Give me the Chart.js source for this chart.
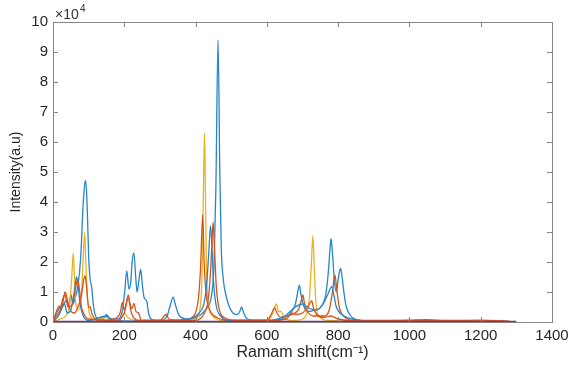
<!DOCTYPE html>
<html>
<head>
<meta charset="utf-8">
<script src="https://cdn.jsdelivr.net/npm/chart.js@4.4.1/dist/chart.umd.min.js"></script>
<style>
  html, body { margin: 0; padding: 0; background: #fff; }
  #wrap { width: 570px; height: 369px; }
</style>
</head>
<body>
<div id="wrap"><canvas id="raman"></canvas></div>
<script>
// intensities are in units of 1e4 (axis shows x10^4)
const blueAX = [0,10,20,30,38,45,50,56,62,70,78,84,89,92,96,100,104,108,114,122,140,150,160,180,195,201,207,213,218,222,227,232,236,241,246,251,256,263,268,278,300,320,330,337,344,355,380,410,430,445,452,457,463,468,472,478,485,495,505,518,524,529,535,545,570,620,650,670,680,686,691,696,703,715,735,755,765,772,777,780,784,790,795,800,804,807,811,816,822,832,850,880,1000,1200,1290];
const blueAY = [0,0.3,0.5,0.6,0.72,0.5,0.93,0.6,0.8,1.2,2.2,3.8,4.6,4.71,3.8,2.2,1.45,1.2,0.5,0.15,0.1,0.25,0.1,0.1,0.4,1.0,1.7,1.1,1.3,2.0,2.3,1.5,1.0,1.4,1.75,1.2,0.8,0.7,0.3,0.08,0.05,0.2,0.6,0.83,0.55,0.2,0.1,0.2,0.45,0.9,2.0,4.5,9.4,5.0,2.5,1.4,0.9,0.5,0.3,0.25,0.35,0.5,0.3,0.1,0.05,0.05,0.15,0.35,0.6,0.95,1.23,0.9,0.55,0.35,0.4,0.55,0.9,1.6,2.4,2.79,2.3,1.3,1.0,1.4,1.7,1.79,1.5,1.0,0.55,0.25,0.08,0.03,0.03,0.02,0.01];

const blueBX = [0,15,25,32,40,50,58,63,66,70,76,85,100,150,170,300,380,410,425,432,437,442,446,450,457,470,500,600,650,665,680,700,720,740,760,772,782,788,795,810,840,900,1100,1280];
const blueBY = [0,0.2,0.45,0.6,0.3,0.4,0.9,1.3,1.5,1.3,0.6,0.2,0.05,0.2,0.05,0.02,0.1,0.3,0.7,1.4,2.3,3.2,2.5,1.4,0.6,0.2,0.05,0.05,0.2,0.35,0.5,0.6,0.45,0.4,0.65,0.95,1.18,0.9,0.5,0.25,0.1,0.03,0.02,0.01];

const redAX = [0,8,17,24,30,34,40,48,60,70,80,86,90,94,100,104,110,130,170,188,195,200,205,211,216,222,227,233,240,248,300,312,318,325,360,395,408,414,420,424,430,440,460,500,600,612,622,628,640,670,690,697,701,706,714,730,760,775,784,791,796,803,815,850,900,1000,1050,1100,1200,1280];
const redAY = [0,0.3,0.53,0.45,0.8,1.0,0.75,0.4,0.3,0.5,0.9,1.4,1.54,1.2,0.5,0.5,0.25,0.05,0.1,0.3,0.65,0.4,0.6,0.9,0.6,0.45,0.62,0.35,0.3,0.05,0.05,0.2,0.25,0.1,0.05,0.2,0.8,1.8,3.57,2.0,0.9,0.4,0.15,0.05,0.05,0.25,0.47,0.3,0.15,0.25,0.45,0.75,0.9,0.6,0.35,0.2,0.2,0.4,1.0,1.57,1.1,0.5,0.2,0.05,0.05,0.06,0.08,0.05,0.06,0.03];

const redBX = [0,10,20,28,34,42,55,63,69,74,80,90,100,180,200,211,220,240,400,425,435,441,446,449,453,458,465,480,520,600,655,670,680,700,715,722,726,731,740,760,780,800,850,1000,1200,1270];
const redBY = [0,0.2,0.4,0.8,0.9,0.5,0.6,1.1,1.42,1.1,0.5,0.2,0.1,0.05,0.3,0.8,0.3,0.05,0.05,0.3,0.7,1.5,2.6,3.33,2.5,1.2,0.5,0.15,0.05,0.05,0.1,0.3,0.25,0.3,0.5,0.65,0.7,0.45,0.25,0.15,0.2,0.1,0.04,0.05,0.04,0.02];

const yellowX = [0,20,35,45,51,55,57,60,64,72,80,85,89,92,96,102,115,150,160,190,200,210,240,400,412,418,421,425,428,431,436,448,480,600,615,622,627,632,640,648,670,700,712,720,725,729,733,738,746,770,900,1250];
const yellowY = [0,0.1,0.2,0.5,1.2,2.0,2.3,1.5,0.6,0.4,1.0,2.2,2.98,2.0,0.9,0.3,0.1,0.15,0.05,0.1,0.3,0.15,0.05,0.1,0.4,1.5,3.5,6.3,4.0,1.6,0.6,0.2,0.05,0.05,0.25,0.5,0.6,0.35,0.35,0.15,0.05,0.1,0.3,0.9,2.0,2.87,1.8,0.6,0.2,0.05,0.02,0.01];

const purpleX = [0,200,400,600,800,1000,1200,1300];
const purpleY = [0.02,0.02,0.02,0.02,0.02,0.02,0.02,0.02];

const xTicks = [0,200,400,600,800,1000,1200,1400];
const yTicks = [0,1,2,3,4,5,6,7,8,9,10];

function pts(xs, ys) { return xs.map((x, i) => ({ x: x, y: ys[i] })); }

const series = [
  { data: pts(purpleX, purpleY), color: '#7E2F8E' },
  { data: pts(redBX, redBY), color: '#D95319' },
  { data: pts(blueBX, blueBY), color: '#2586c9' },
  { data: pts(redAX, redAY), color: '#D95319' },
  { data: pts(yellowX, yellowY), color: '#EDB120' },
  { data: pts(blueAX, blueAY), color: '#2586c9' }
];

const FONT = '"Liberation Sans", Arial, sans-serif';

// box frame, inward ticks, x10^4 label
const matlabBox = {
  id: 'matlabBox',
  afterDraw(chart) {
    const ctx = chart.ctx, a = chart.chartArea;
    const xs = chart.scales.x, ys = chart.scales.y;
    ctx.save();
    ctx.strokeStyle = '#858585';
    ctx.lineWidth = 1;
    ctx.strokeRect(a.left + 0.5, a.top + 0.5, a.right - a.left, a.bottom - a.top);
    ctx.beginPath();
    xTicks.forEach(v => {
      const p = Math.round(xs.getPixelForValue(v)) + 0.5;
      ctx.moveTo(p, a.bottom); ctx.lineTo(p, a.bottom - 5);
      ctx.moveTo(p, a.top); ctx.lineTo(p, a.top + 5);
    });
    yTicks.forEach(v => {
      const p = Math.round(ys.getPixelForValue(v)) + 0.5;
      ctx.moveTo(a.left, p); ctx.lineTo(a.left + 5, p);
      ctx.moveTo(a.right, p); ctx.lineTo(a.right - 5, p);
    });
    ctx.stroke();
    ctx.fillStyle = '#333';
    ctx.font = '14px ' + FONT;
    ctx.textBaseline = 'alphabetic';
    ctx.fillText('\u00d710', a.left + 2, a.top - 3);
    ctx.font = '10px ' + FONT;
    ctx.fillText('4', a.left + 27, a.top - 10);
    ctx.restore();
  }
};

new Chart(document.getElementById('raman'), {
  type: 'line',
  data: {
    datasets: series.map(s => ({
      data: s.data,
      borderColor: s.color,
      borderWidth: 1.3,
      pointRadius: 0,
      fill: false,
      cubicInterpolationMode: 'monotone'
    }))
  },
  options: {
    responsive: true,
    maintainAspectRatio: false,
    animation: false,
    events: [],
    layout: { padding: { left: 0, right: 18, top: 22, bottom: 7 } },
    plugins: { legend: { display: false }, tooltip: { enabled: false } },
    scales: {
      x: {
        type: 'linear',
        min: 0, max: 1400,
        afterBuildTicks: sc => { sc.ticks = xTicks.map(v => ({ value: v })); },
        afterFit: sc => { sc.height = 40; sc.paddingLeft = 0; sc.paddingRight = 0; },
        grid: { display: false, drawTicks: false },
        border: { display: false },
        ticks: { color: '#262626', padding: 5, maxRotation: 0, callback: v => String(v), font: { family: FONT, size: 15 } },
        title: {
          display: true,
          text: 'Ramam shift(cm\u207b\u00b9)',
          color: '#262626',
          padding: { top: 0, bottom: 0 },
          font: { family: FONT, size: 16 }
        }
      },
      y: {
        type: 'linear',
        min: 0, max: 10,
        afterBuildTicks: sc => { sc.ticks = yTicks.map(v => ({ value: v })); },
        afterFit: sc => { sc.width = 53; sc.paddingTop = 0; sc.paddingBottom = 0; },
        grid: { display: false, drawTicks: false },
        border: { display: false },
        ticks: { color: '#262626', padding: 5, callback: v => String(v), font: { family: FONT, size: 15 } },
        title: {
          display: true,
          text: 'Intensity(a.u)',
          color: '#262626',
          padding: { top: 8, bottom: 0 },
          font: { family: FONT, size: 14 }
        }
      }
    }
  },
  plugins: [matlabBox]
});
</script>
</body>
</html>
